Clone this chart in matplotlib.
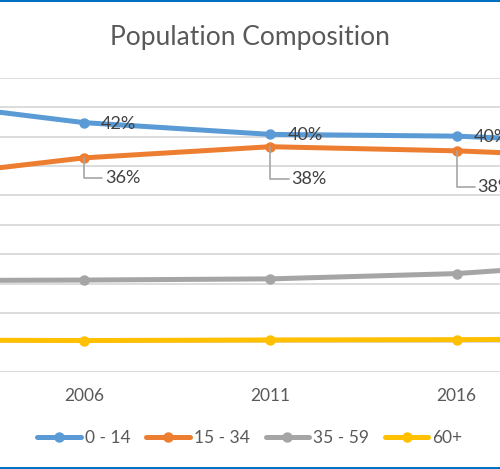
import matplotlib
matplotlib.use("Agg")
import matplotlib.pyplot as plt
from matplotlib.patches import Rectangle

# census years and share of population (%) per age group
years = ["2001", "2006", "2011", "2016", "2021"]
age_0_14 = [46.3, 42.4, 40.4, 40.1, 38.8]
age_15_34 = [32.7, 36.4, 38.3, 37.6, 36.3]
age_35_59 = [15.5, 15.6, 15.8, 16.7, 18.9]
age_60_plus = [5.4, 5.3, 5.4, 5.45, 5.6]
series_names = ["0 - 14", "15 - 34", "35 - 59", "60+"]

colors = ["#5B9BD5", "#ED7D31", "#A5A5A5", "#FFC000"]
FONT = "Lato"

fig = plt.figure(figsize=(5.0, 4.69), dpi=100)
ax = fig.add_axes([0.0, 0.2075, 1.0, 0.6262])

x = list(range(len(years)))
all_series = [age_0_14, age_15_34, age_35_59, age_60_plus]
for vals, name, col in zip(all_series, series_names, colors):
    ax.plot(x, vals, color=col, lw=3.6, marker="o", ms=6.5,
            solid_capstyle="round", label=name, zorder=3)

# data labels: blue to the right of the marker
for i in (1, 2, 3):
    ax.annotate("%.0f%%" % age_0_14[i], (x[i], age_0_14[i]),
                xytext=(17, -1), textcoords="offset pixels",
                ha="left", va="center", fontsize=13, color="#404040",
                family=FONT, zorder=5)

# orange labels sit below with a leader line
drop = [0, 20, 32, 36, 0]
for i in (1, 2, 3):
    ax.annotate("%.0f%%" % age_15_34[i], (x[i], age_15_34[i]),
                xytext=(21, -drop[i]), textcoords="offset pixels",
                ha="left", va="center", fontsize=13, color="#404040",
                family=FONT, zorder=5,
                arrowprops=dict(arrowstyle="-", color="#A6A6A6", lw=1.2,
                                shrinkA=0, shrinkB=0,
                                connectionstyle="angle,angleA=0,angleB=90,rad=0"))

ax.set_yticks(range(0, 51, 5))
ax.set_yticklabels([])
ax.set_xticks(x)
ax.set_xticklabels(years, fontsize=12.5, color="#595959", family=FONT)
# the view is cropped: only 2006-2016 fully in sight
ax.set_xlim(0.549, 3.233)
ax.set_ylim(0, 50)
ax.tick_params(axis="both", length=0)
ax.tick_params(axis="x", pad=12)
ax.grid(axis="y", color="#D9D9D9", lw=1.3)
ax.set_axisbelow(True)
for s in ax.spines.values():
    s.set_visible(False)

fig.text(0.5, 1 - 38 / 469, "Population Composition", ha="center", va="center",
         fontsize=19, color="#595959", family=FONT)

fig.legend(loc="center", bbox_to_anchor=(0.5, 1 - 438 / 469), ncol=4,
           frameon=False, prop=dict(family=FONT, size=12.5), labelcolor="#595959",
           handlelength=2.5, handletextpad=0.25, columnspacing=0.9)

# blue frame strips at top and bottom
fig.add_artist(Rectangle((0, 0), 1, 2.5 / 469, transform=fig.transFigure,
                         color="#0070C0", lw=0))
fig.add_artist(Rectangle((0, 1 - 1.8 / 469), 1, 1.8 / 469, transform=fig.transFigure,
                         color="#0070C0", lw=0))

fig.savefig("out.png", dpi=100)
